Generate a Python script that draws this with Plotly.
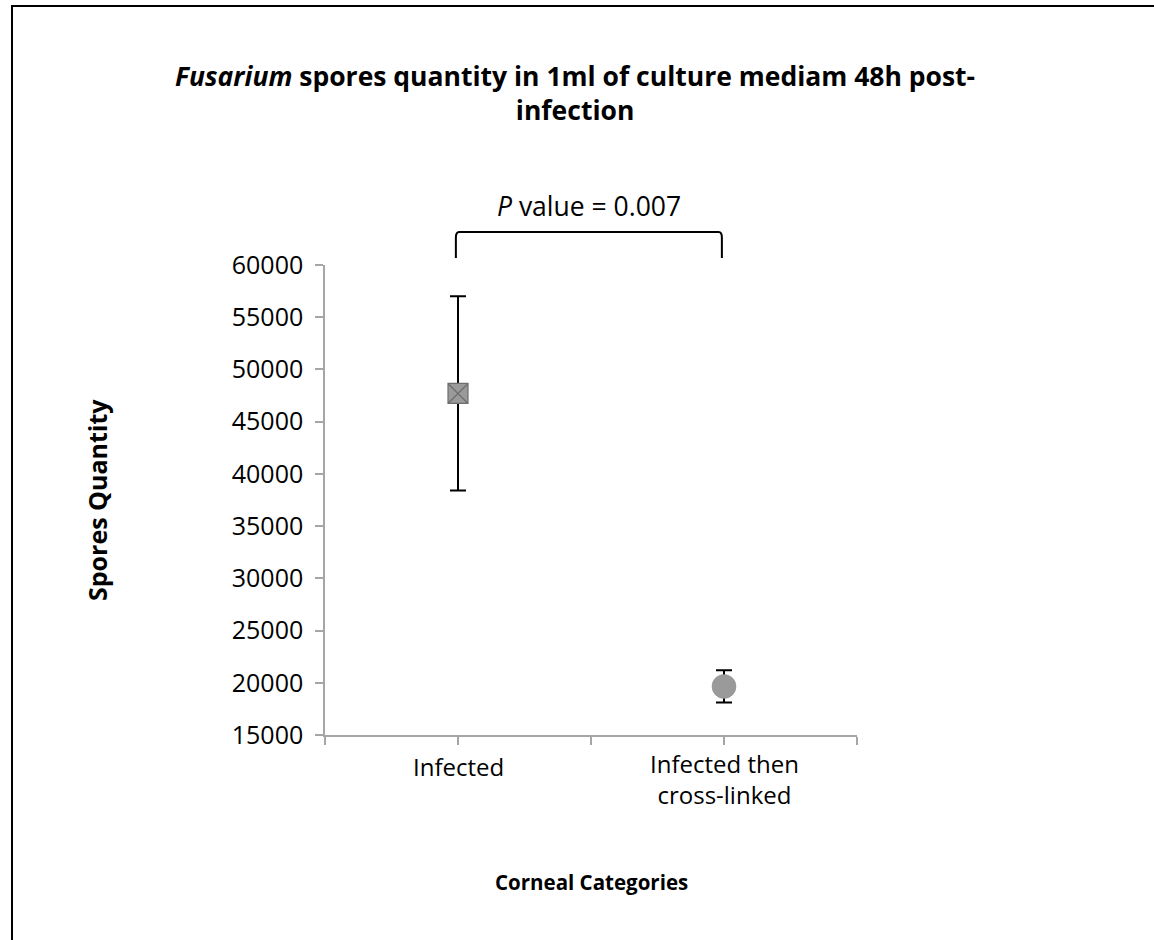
import plotly.graph_objects as go

categories = ["Infected", "Infected then<br>cross-linked"]
cat_x = [1, 3]
means = [47700, 19650]
errors = [9300, 1550]
y_ticks = [15000, 20000, 25000, 30000, 35000, 40000, 45000, 50000, 55000, 60000]
x_ticks = [0, 1, 2, 3, 4]
p_text = "<i>P</i> value = 0.007"
title_text = "<b><i>Fusarium</i> spores quantity in 1ml of culture mediam 48h post-<br>infection</b>"

W, H = 1154, 940
L, R, T, B = 325, 297, 265, 205
FONT = "Open Sans"
xr = [0, 4]
yr = [15000, 60000]
PW = W - L - R
PH = H - T - B

def px_to_paper_x(px):
    return (px - L) / PW

def px_to_paper_y(py):
    return (H - B - py) / PH

fig = go.Figure()
fig.add_trace(go.Scatter(
    x=[cat_x[0]], y=[means[0]], mode="markers",
    marker=dict(symbol="square-x", size=20, color="#9a9a9a",
                line=dict(color="#6e6e6e", width=1.2)),
    error_y=dict(type="data", array=[errors[0]], color="black", thickness=2, width=8),
    showlegend=False))
fig.add_trace(go.Scatter(
    x=[cat_x[1]], y=[means[1]], mode="markers",
    marker=dict(symbol="circle", size=24, color="#9a9a9a",
                line=dict(color="#8a8a8a", width=0.5)),
    error_y=dict(type="data", array=[errors[1]], color="black", thickness=2, width=8),
    showlegend=False))

# bracket
bx0 = (cat_x[0] - xr[0]) / (xr[1] - xr[0]) - 0.004
bx1 = (cat_x[1] - xr[0]) / (xr[1] - xr[0]) - 0.004
by0 = px_to_paper_y(258)
by1 = px_to_paper_y(232)
c = 0.006
cy = 0.012
fig.add_shape(type="path", xref="paper", yref="paper",
              path=f"M {bx0},{by0} L {bx0},{by1-cy} Q {bx0},{by1} {bx0+c},{by1} "
                   f"L {bx1-c},{by1} Q {bx1},{by1} {bx1},{by1-cy} L {bx1},{by0}",
              line=dict(color="black", width=2))

# outer frame
fig.add_shape(type="rect", xref="paper", yref="paper",
              x0=px_to_paper_x(12), x1=px_to_paper_x(1200),
              y0=px_to_paper_y(1000), y1=px_to_paper_y(6),
              line=dict(color="black", width=2))

def ann(text, x, y, size, xref="paper", angle=0):
    return dict(text=text, x=x, y=y, xref=xref, yref="paper", xanchor="center", yanchor="middle",
                textangle=angle, showarrow=False, font=dict(size=size, family=FONT, color="black"))

anns = [
    ann(title_text, px_to_paper_x(575), px_to_paper_y(93), 26.5),
    ann(p_text, (bx0 + bx1) / 2, px_to_paper_y(206), 26.5),
    ann("<b>Spores Quantity</b>", px_to_paper_x(97), 0.5, 25, angle=-90),
    ann("<b>Corneal Categories</b>", 0.5, px_to_paper_y(882), 20.5),
    ann(categories[0], cat_x[0], px_to_paper_y(766), 24, xref="x"),
    ann(categories[1], cat_x[1], px_to_paper_y(778.5), 24, xref="x"),
]

fig.update_layout(
    width=W, height=H, margin=dict(l=L, r=R, t=T, b=B),
    paper_bgcolor="white", plot_bgcolor="white",
    annotations=anns,
    xaxis=dict(range=xr, tickvals=x_ticks, ticktext=[""] * len(x_ticks), showgrid=False, zeroline=False,
               showline=True, linecolor="#a6a6a6", linewidth=1.5, ticks="outside",
               ticklen=8, tickcolor="#a6a6a6", tickwidth=1.5),
    yaxis=dict(range=yr, tickvals=y_ticks, ticktext=[str(v) for v in y_ticks],
               showgrid=False, zeroline=False,
               showline=True, linecolor="#a6a6a6", linewidth=1.5, ticks="outside",
               ticklen=8, tickcolor="#a6a6a6", tickwidth=1.5, ticklabelstandoff=7,
               tickfont=dict(size=25, family=FONT, color="black")),
)
fig.write_html("out.html", config={"displayModeBar": False},
               post_script="document.body.style.margin='0px';")
